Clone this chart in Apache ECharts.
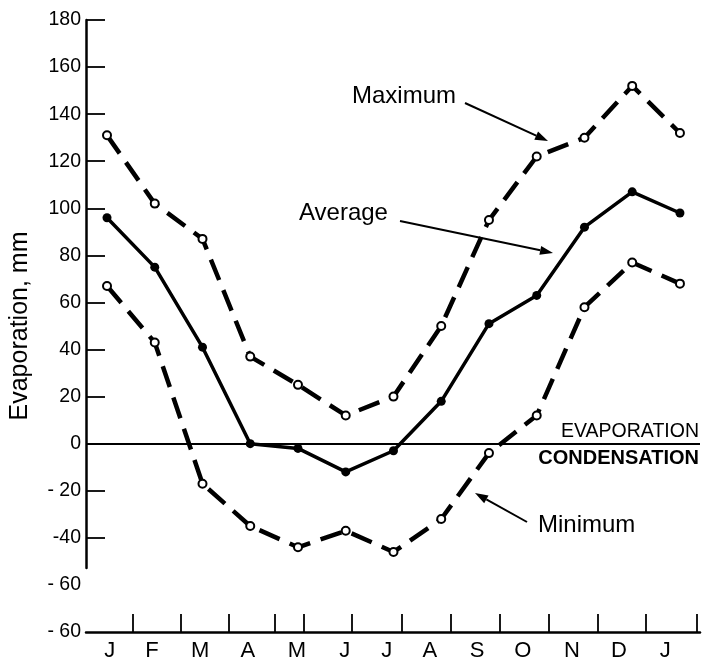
<!DOCTYPE html>
<html>
<head>
<meta charset="utf-8">
<script src="https://cdn.jsdelivr.net/npm/echarts@6/dist/echarts.min.js"></script>
<style>
html,body{margin:0;padding:0;background:#fff;}
#c{width:702px;height:662px;}
</style>
</head>
<body>
<div id="c"></div>
<script>
// ---- data ----
var months = ['J','F','M','A','M','J','J','A','S','O','N','D','J'];
var maximum = [131,102,87,37,25,12,20,50,95,122,130,152,132];
var average = [96,75,41,0,-2,-12,-3,18,51,63,92,107,98];
var minimum = [67,43,-17,-35,-44,-37,-46,-32,-4,12,58,77,68];
// month label and tick positions along the x axis (in month units)
var monthLabelAt = [0.06,0.94,1.95,2.95,3.98,4.98,5.86,6.76,7.75,8.71,9.74,10.72,11.69];
var monthTickAt = [0.54,1.55,2.55,3.52,4.13,5.13,6.18,7.2,8.23,9.26,10.28,11.29,12.36];
// y tick labels
var yLabelValues = [180,160,140,120,100,80,60,40,20,0,-20,-40,-60,-80];
var yLabelTexts = ['180','160','140','120','100','80','60','40','20','0','- 20','-40','- 60','- 60'];
var yTickValues = [180,160,140,120,100,80,60,40,20,0,-20,-40];

function pairs(arr){ return arr.map(function(v,i){ return [i,v]; }); }
function nearestIndex(arr, v){
  var best = 0, bd = Infinity;
  for (var i=0;i<arr.length;i++){ var d=Math.abs(arr[i]-v); if(d<bd){bd=d;best=i;} }
  return best;
}

var FONT = '"Liberation Sans", Arial, Helvetica, sans-serif';

function arrow(x1,y1,x2,y2){
  var ang = Math.atan2(y2-y1, x2-x1);
  var L = 13, W = 4.5;
  var bx = x2 - L*Math.cos(ang), by = y2 - L*Math.sin(ang);
  var px = -Math.sin(ang)*W, py = Math.cos(ang)*W;
  return [
    {type:'line', shape:{x1:x1,y1:y1,x2:bx,y2:by}, style:{stroke:'#000',lineWidth:2}, z:100},
    {type:'polygon', shape:{points:[[x2,y2],[bx+px,by+py],[bx-px,by-py]]}, style:{fill:'#000'}, z:100}
  ];
}
function label(text,x,y,size,weight,align){
  return {type:'text', x:x, y:y, z:100, style:{text:text, font:(weight||'normal')+' '+size+'px '+FONT, fill:'#000', align:align||'left', verticalAlign:'middle'}};
}

var graphics = []
  .concat(arrow(465,103,548,141))
  .concat(arrow(400,221,553,253))
  .concat(arrow(527,522,475,493))
  .concat([
    label('Maximum',352,96,24),
    label('Average',299,213,24),
    label('Minimum',538,525,24),
    label('EVAPORATION',699,432,19.5,'normal','right'),
    label('CONDENSATION',699,458,20,'bold','right')
  ]);

var lineDash = [22,11];

var chart = echarts.init(document.getElementById('c'));
chart.setOption({
  backgroundColor:'#fff',
  animation:false,
  grid:[
    {left:86, right:2, top:20, bottom:28},
    {left:86, width:20, top:20, height:548}
  ],
  xAxis:[
    {
      type:'value', gridIndex:0, min:-0.44, max:12.42,
      splitLine:{show:false},
      axisLine:{show:true, onZero:false, lineStyle:{color:'#000', width:2.5}},
      axisTick:{show:true, inside:true, length:18, customValues:monthTickAt, lineStyle:{color:'#000', width:1.8}},
      axisLabel:{show:true, customValues:monthLabelAt, margin:8, color:'#000', fontSize:22, fontFamily:FONT,
        formatter:function(v){ return months[nearestIndex(monthLabelAt, v)]; }}
    },
    {type:'value', gridIndex:1, min:0, max:1, show:false}
  ],
  yAxis:[
    {
      type:'value', gridIndex:0, min:-80, max:180, interval:20,
      name:'Evaporation, mm', nameLocation:'middle', nameGap:53,
      nameTextStyle:{color:'#000', fontSize:25, fontFamily:FONT},
      splitLine:{show:false},
      axisLine:{show:false, onZero:false},
      axisTick:{show:true, inside:true, length:19, customValues:yTickValues, lineStyle:{color:'#000', width:1.8}},
      axisLabel:{show:true, customValues:yLabelValues, margin:5, color:'#000', fontSize:19.5, fontFamily:FONT,
        formatter:function(v){ return yLabelTexts[nearestIndex(yLabelValues, v)]; }}
    },
    {
      type:'value', gridIndex:1, min:0, max:1,
      splitLine:{show:false}, axisTick:{show:false}, axisLabel:{show:false},
      axisLine:{show:true, onZero:false, lineStyle:{color:'#000', width:2.5}}
    }
  ],
  series:[
    {
      name:'Maximum', type:'line', xAxisIndex:0, yAxisIndex:0, data:pairs(maximum),
      symbol:'circle', symbolSize:8, showAllSymbol:true,
      lineStyle:{color:'#000', width:4.5, type:lineDash},
      itemStyle:{color:'#fff', borderColor:'#000', borderWidth:2},
      z:3
    },
    {
      name:'Average', type:'line', xAxisIndex:0, yAxisIndex:0, data:pairs(average),
      symbol:'circle', symbolSize:9,
      lineStyle:{color:'#000', width:3.5},
      itemStyle:{color:'#000'},
      markLine:{silent:true, symbol:'none', label:{show:false},
        lineStyle:{color:'#000', width:2, type:'solid'},
        data:[{yAxis:0}]},
      z:4
    },
    {
      name:'Minimum', type:'line', xAxisIndex:0, yAxisIndex:0, data:pairs(minimum),
      symbol:'circle', symbolSize:8,
      lineStyle:{color:'#000', width:4.5, type:lineDash},
      itemStyle:{color:'#fff', borderColor:'#000', borderWidth:2},
      z:3
    }
  ],
  graphic:graphics
});
</script>
</body>
</html>
